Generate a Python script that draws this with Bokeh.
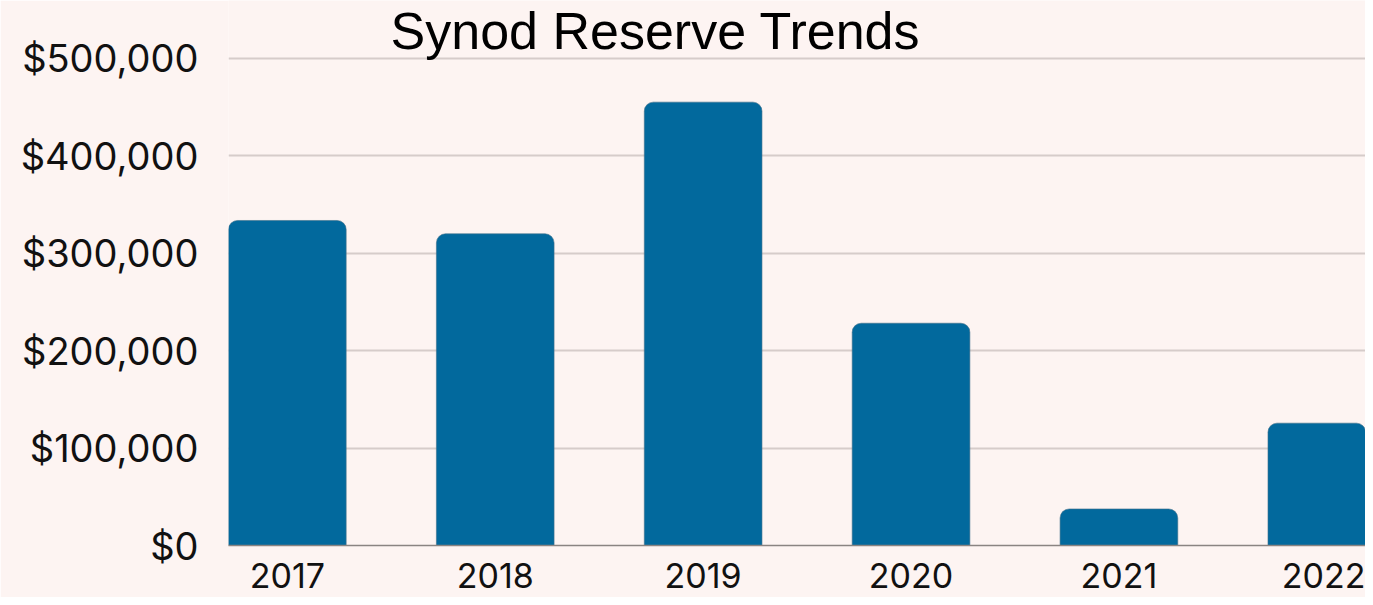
from bokeh.plotting import figure
from bokeh.models import Range1d, FixedTicker, NumeralTickFormatter, Label, ColumnDataSource
from bokeh.embed import file_html
from bokeh.resources import INLINE

years = ["2017", "2018", "2019", "2020", "2021", "2022"]
reserves = [333700, 320000, 455200, 228200, 37500, 125600]
y_ticks = [0, 100000, 200000, 300000, 400000, 500000]
title_text = "Synod Reserve Trends"

BG = "#FDF4F2"
BAR = "#02699D"

xs = list(range(len(years)))
src = ColumnDataSource(dict(x=xs, top=reserves))

p = figure(frame_width=1137, frame_height=545, output_backend="svg", toolbar_location=None,
           x_range=Range1d(-0.283, 5.186), y_range=Range1d(0, 559548),
           min_border_left=228, min_border_right=0, min_border_top=0, min_border_bottom=52)
p.background_fill_color = BG
p.border_fill_color = BG
p.outline_line_color = None

p.vbar(x="x", top="top", width=0.566, bottom=0, source=src, fill_color=BAR,
       line_color="#3F6F8A", line_width=1, line_alpha=0.6,
       border_radius=(9, 9, 0, 0))

p.xaxis.ticker = FixedTicker(ticks=xs)
p.xaxis.major_label_overrides = {i: y for i, y in enumerate(years)}
p.yaxis.ticker = FixedTicker(ticks=y_ticks)
p.yaxis.formatter = NumeralTickFormatter(format="$0,0")

for ax in (p.xaxis, p.yaxis):
    ax.major_tick_line_color = None
    ax.minor_tick_line_color = None
    ax.major_label_text_font = "Inter"
    ax.major_label_text_color = "#111111"
p.yaxis.major_label_text_font_size = "38px"
p.xaxis.major_label_text_font_size = "34px"
p.yaxis.axis_line_color = None
p.yaxis.major_label_standoff = 24
p.xaxis.axis_line_color = "#8A8482"
p.xaxis.axis_line_width = 1.5
p.xaxis.major_label_standoff = 11

p.xgrid.grid_line_color = None
p.ygrid.ticker = FixedTicker(ticks=y_ticks)
p.ygrid.grid_line_color = "#D6CCCA"
p.ygrid.grid_line_width = 2

p.add_layout(Label(x=427, y=515, x_units="screen", y_units="screen", text=title_text,
                   text_font="Liberation Sans", text_font_size="52px", text_align="center",
                   text_baseline="alphabetic", text_color="#000000"))

open("out.html", "w").write(file_html(p, INLINE))
